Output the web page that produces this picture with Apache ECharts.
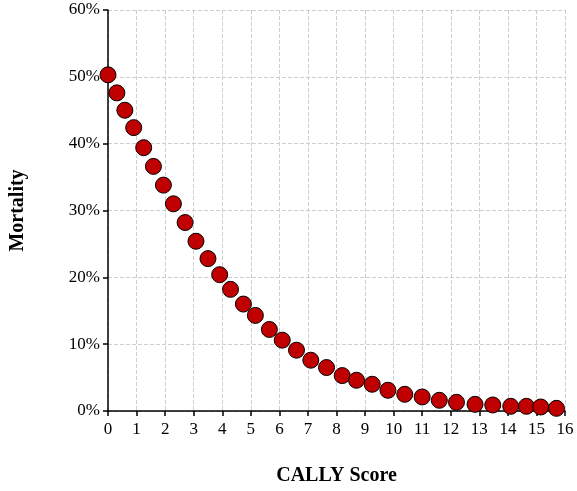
<!DOCTYPE html>
<html>
<head>
<meta charset="utf-8">
<script src="https://cdn.jsdelivr.net/npm/echarts@6/dist/echarts.min.js"></script>
<style>html,body{margin:0;padding:0;background:#fff}#chart{width:577px;height:491px}</style>
</head>
<body>
<div id="chart"></div>
<script>
// CALLY score vs predicted mortality (%)
const scores = [0, 0.31, 0.59, 0.9, 1.25, 1.59, 1.94, 2.29, 2.7, 3.08, 3.5, 3.91, 4.29, 4.74, 5.16, 5.65, 6.1, 6.6, 7.1, 7.65, 8.2, 8.7, 9.25, 9.8, 10.39, 11.0, 11.6, 12.2, 12.85, 13.47, 14.1, 14.65, 15.15, 15.7];
const mortality = [50.3, 47.6, 45.0, 42.4, 39.4, 36.6, 33.8, 31.0, 28.2, 25.4, 22.8, 20.4, 18.2, 16.0, 14.3, 12.2, 10.6, 9.1, 7.6, 6.5, 5.3, 4.6, 4.0, 3.1, 2.5, 2.1, 1.6, 1.3, 1.0, 0.9, 0.7, 0.7, 0.6, 0.4];

const font = '"Liberation Serif", "Times New Roman", serif';
const gridLine = { show: true, lineStyle: { color: '#cfcfcf', type: 'dashed', width: 1 } };
const axisLine = { show: true, onZero: false, lineStyle: { color: '#000', width: 1.5 } };
const axisTick = { show: true, inside: false, length: 5, lineStyle: { color: '#000', width: 1.5 } };

const chart = echarts.init(document.getElementById('chart'));
chart.setOption({
	animation: false,
	grid: { left: 103, right: 12, top: 10, bottom: 73, containLabel: false },
	xAxis: {
		type: 'value', min: 0, max: 16, interval: 1,
		name: 'CALLY Score', nameLocation: 'middle', nameGap: 55,
		nameTextStyle: { fontFamily: font, fontSize: 20, fontWeight: 'bold', color: '#000' },
		axisLine, axisTick, splitLine: gridLine,
		axisLabel: { fontFamily: font, fontSize: 17, color: '#000', margin: 10 }
	},
	yAxis: {
		type: 'value', min: 0, max: 60, interval: 10,
		name: 'Mortality', nameLocation: 'middle', nameGap: 80,
		nameTextStyle: { fontFamily: font, fontSize: 20, fontWeight: 'bold', color: '#000' },
		axisLine, axisTick, splitLine: gridLine,
		axisLabel: { fontFamily: font, fontSize: 17, color: '#000', margin: 8, formatter: '{value}%' }
	},
	series: [{
		type: 'scatter',
		data: scores.map((s, i) => [s, mortality[i]]),
		symbolSize: 16,
		itemStyle: { color: '#c00000', borderColor: '#000', borderWidth: 1, opacity: 1 }
	}]
});
</script>
</body>
</html>
